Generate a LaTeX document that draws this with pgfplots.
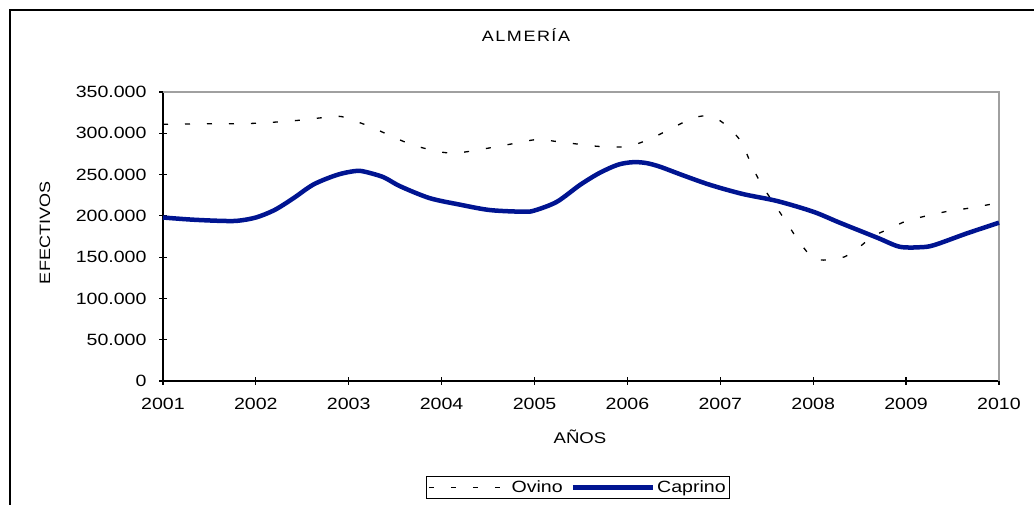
\documentclass[border=0pt]{standalone}
\usepackage{fontspec}
\setmainfont{Liberation Sans}[FakeStretch=1.2]
\usepackage{pgfplots}
\pgfplotsset{compat=1.18}
\definecolor{capblue}{RGB}{0,20,145}
\definecolor{framegray}{RGB}{160,160,160}
\begin{document}
\begin{tikzpicture}[x=1pt,y=1pt]
\path[use as bounding box] (0,0) rectangle (1034,505);
\draw[line width=1.5pt] (10,0) -- (10,495) -- (1034,495);
\begin{axis}[
  at={(163pt,124pt)}, anchor=south west,
  scale only axis, width=836pt, height=289pt,
  xmin=2001, xmax=2010, ymin=0, ymax=350000,
  axis x line*=bottom, axis y line*=left,
  axis line style={black, line width=1.2pt},
  xtick={2001,...,2010},
  ytick={0,50000,100000,150000,200000,250000,300000,350000},
  scaled y ticks=false,
  tick align=center, major tick length=8pt,
  tick style={black, line width=1.2pt},
  /pgf/number format/assume math mode=true,
  /pgf/number format/fixed,
  xticklabel style={/pgf/number format/fixed, /pgf/number format/1000 sep={}, yshift=-10pt},
  yticklabel style={/pgf/number format/fixed, /pgf/number format/1000 sep={.}, xshift=-9pt},
  ticklabel style={font=\fontsize{16.3}{18}\selectfont},
  legend columns=2,
  legend style={at={(0.4964,-0.3685)}, anchor=center, draw=black, line width=1.2pt,
    font=\fontsize{16.3}{18}\selectfont, inner sep=2pt,
    /tikz/every even column/.append style={column sep=6pt}},
  legend image code/.code={\draw[#1] (0pt,0pt) -- (80pt,0pt);},
  clip=false,
]
\draw[framegray, line width=1.2pt] (rel axis cs:0,1) -- (rel axis cs:1,1) -- (rel axis cs:1,0);
\addplot[black, line width=1.3pt, dash pattern=on 5pt off 17pt, smooth] table {
2001.00 311000
2001.50 311500
2001.97 312000
2002.44 315500
2002.87 320500
2003.01 317000
2003.23 308000
2003.66 287000
2004.01 277000
2004.23 277000
2004.70 286000
2005.03 292500
2005.24 290000
2005.70 284000
2005.99 284000
2006.22 292000
2006.44 304000
2006.62 314000
2006.81 321000
2007.00 315000
2007.21 292000
2007.35 258000
2007.46 235000
2007.66 201000
2007.86 167000
2008.00 149000
2008.15 146500
2008.34 150500
2008.50 162500
2008.64 175000
2008.83 185000
2009.01 194000
2009.26 201000
2009.47 206000
2009.66 209000
2009.96 215000
2010.00 216000
};
\addlegendentry{Ovino}
\addplot[capblue, line width=4.5pt, smooth] table {
2001.00 198000
2001.30 195500
2001.60 194000
2001.80 194000
2002.00 198000
2002.20 207000
2002.40 221000
2002.62 238000
2002.87 249500
2003.05 254000
2003.15 254000
2003.37 247000
2003.55 236000
2003.87 221500
2004.20 213500
2004.52 207000
2004.88 205000
2005.00 206500
2005.24 217000
2005.49 237500
2005.70 252000
2005.90 262000
2006.06 265000
2006.20 264000
2006.35 259500
2006.60 249000
2006.89 237500
2007.24 226500
2007.61 218000
2008.00 205000
2008.29 191500
2008.69 173500
2008.93 162600
2009.15 162000
2009.30 164500
2009.66 179000
2010.00 191700
};
\addlegendentry{Caprino}
\end{axis}
\node at (526,470) {\fontsize{15}{17}\selectfont\addfontfeature{LetterSpace=10}ALMERÍA};
\node at (580,68) {\fontsize{15.5}{17}\selectfont AÑOS};
\node[rotate=90] at (45,272) {\fontsize{15}{17}\selectfont EFECTIVOS};
\end{tikzpicture}
\end{document}
